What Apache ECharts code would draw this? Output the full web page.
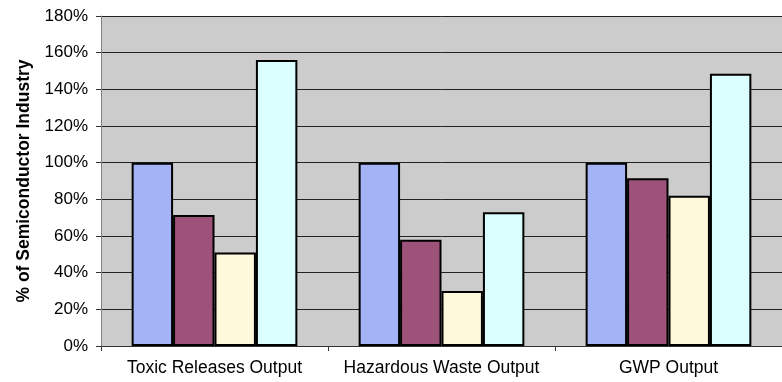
<!DOCTYPE html>
<html><head><meta charset="utf-8">
<script src="https://cdn.jsdelivr.net/npm/echarts@6/dist/echarts.min.js"></script>
<style>html,body{margin:0;padding:0;background:#fff}#c{width:782px;height:382px}</style>
</head><body><div id="c"></div>
<script>
const categories = ['Toxic Releases Output', 'Hazardous Waste Output', 'GWP Output'];
const seriesA = [100, 100, 100];
const seriesB = [71.5, 58, 91.5];
const seriesC = [51, 30, 82];
const seriesD = [156, 73, 148.5];
const yTicks = [0, 20, 40, 60, 80, 100, 120, 140, 160, 180];
const colors = ['#A3B3F5', '#9D5279', '#FFF9DB', '#DBFFFF'];
const font = 'Arial, "Liberation Sans", sans-serif';

const chart = echarts.init(document.getElementById('c'), null, {renderer: 'canvas'});
const mk = (d, i) => ({
  type: 'bar', data: d, barGap: '0%', barCategoryGap: '27%',
  itemStyle: {color: colors[i], borderColor: '#000', borderWidth: 2},
  animation: false
});
chart.setOption({
  animation: false,
  grid: {left: 101, top: 16, right: 0, bottom: 36, show: true, backgroundColor: '#CCCCCC', borderWidth: 0},
  xAxis: {
    type: 'category', data: categories,
    axisLine: {lineStyle: {color: '#333', width: 1}},
    axisTick: {show: true, alignWithLabel: false, length: 5, lineStyle: {color: '#333'}},
    axisLabel: {color: '#000', fontFamily: font, fontSize: 17.5, margin: 13, interval: 0}
  },
  yAxis: {
    type: 'value', min: yTicks[0], max: yTicks[yTicks.length - 1], interval: 20,
    name: '% of Semiconductor Industry', nameLocation: 'middle', nameGap: 62,
    nameTextStyle: {fontFamily: font, fontWeight: 'bold', fontSize: 17.5, color: '#000'},
    axisLine: {show: true, lineStyle: {color: '#808080'}},
    axisTick: {show: true, length: 5, lineStyle: {color: '#333'}},
    axisLabel: {color: '#000', fontFamily: font, fontSize: 17, margin: 13, formatter: v => v + '%'},
    splitLine: {show: true, lineStyle: {color: '#222', width: 1}}
  },
  series: [mk(seriesA, 0), mk(seriesB, 1), mk(seriesC, 2), mk(seriesD, 3)]
});
</script></body></html>
